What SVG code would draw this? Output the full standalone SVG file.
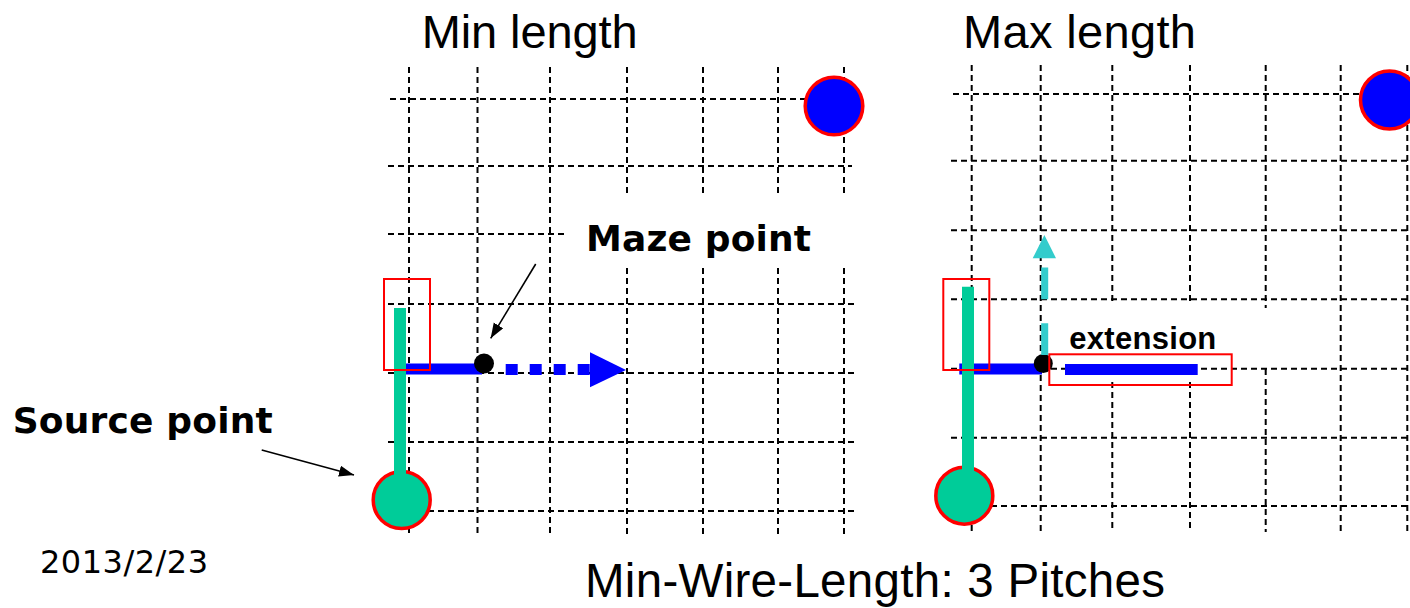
<svg xmlns="http://www.w3.org/2000/svg" width="1410" height="608" viewBox="0 0 1410 608">
<defs>
<style>
.grid line{stroke:#000;stroke-width:2;stroke-dasharray:6 4;fill:none}
.t{font-family:"Liberation Sans",Arial,sans-serif;fill:#000}
.tb{font-family:"DejaVu Sans",Verdana,sans-serif;font-weight:bold;fill:#000}
.blue{stroke:#0000FF;stroke-width:11;fill:none}
.green{stroke:#00CC99;stroke-width:12;fill:none}
.frame{fill:none;stroke:#FF0000;stroke-width:2}
.pin{stroke:#FF0000;stroke-width:3.5}
.arr{stroke:#000;stroke-width:1.6;fill:none}
</style>
<marker id="ah" markerUnits="userSpaceOnUse" markerWidth="16" markerHeight="12" refX="15" refY="5.5" orient="auto">
<path d="M0,0 L15,5.5 L0,11 z" fill="#000"/>
</marker>
</defs>
<rect width="1410" height="608" fill="#fff"/>

<g id="grid-left" class="grid">
<line x1="409" y1="67" x2="409" y2="536"/>
<line x1="477.5" y1="67" x2="477.5" y2="536"/>
<line x1="550" y1="67" x2="550" y2="536"/>
<line x1="627" y1="67" x2="627" y2="197"/><line x1="627" y1="268" x2="627" y2="536"/>
<line x1="703" y1="67" x2="703" y2="197"/><line x1="703" y1="268" x2="703" y2="536"/>
<line x1="778" y1="67" x2="778" y2="197"/><line x1="778" y1="268" x2="778" y2="536"/>
<line x1="844" y1="67" x2="844" y2="197"/><line x1="844" y1="268" x2="844" y2="536"/>
<line x1="390" y1="99" x2="834" y2="99"/>
<line x1="388" y1="166" x2="852" y2="166"/>
<line x1="388" y1="234" x2="565" y2="234"/>
<line x1="388" y1="304" x2="858" y2="304"/>
<line x1="388" y1="373" x2="856" y2="373"/>
<line x1="388" y1="442" x2="856" y2="442"/>
<line x1="388" y1="511" x2="857" y2="511"/>
</g>

<g id="grid-right" class="grid">
<line x1="971.7" y1="65" x2="971.7" y2="532"/>
<line x1="1040.7" y1="65" x2="1040.7" y2="532"/>
<line x1="1112.3" y1="65" x2="1112.3" y2="305"/><line x1="1112.3" y1="382" x2="1112.3" y2="532"/>
<line x1="1190" y1="65" x2="1190" y2="305"/><line x1="1190" y1="382" x2="1190" y2="532"/>
<line x1="1265.7" y1="65" x2="1265.7" y2="308"/><line x1="1265.7" y1="369" x2="1265.7" y2="532"/>
<line x1="1340.7" y1="65" x2="1340.7" y2="532"/>
<line x1="1407.3" y1="65" x2="1407.3" y2="532"/>
<line x1="953" y1="94" x2="1389" y2="94"/>
<line x1="951" y1="160.7" x2="1410" y2="160.7"/>
<line x1="951" y1="230.3" x2="1410" y2="230.3"/>
<line x1="951" y1="299.3" x2="1410" y2="299.3"/>
<line x1="951" y1="368.7" x2="1410" y2="368.7"/>
<line x1="951" y1="437.7" x2="1410" y2="437.7"/>
<line x1="951" y1="506" x2="1410" y2="506"/>
</g>

<g id="title-min"><text class="t" x="421.7" y="48.3" font-size="47" textLength="216">Min length</text></g>
<g id="title-max"><text class="t" x="963" y="48" font-size="47" textLength="233">Max length</text></g>

<g id="target-left"><circle cx="834" cy="106" r="28.8" fill="#0000FF" class="pin"/></g>
<g id="target-right"><circle cx="1389.5" cy="100" r="29" fill="#0000FF" class="pin"/></g>

<g id="source-left">
<circle cx="401.7" cy="500" r="28.5" fill="#00CC99" class="pin"/>
</g>
<g id="source-right">
<circle cx="964.3" cy="495.7" r="28.5" fill="#00CC99" class="pin"/>
</g>

<g id="wire-left">
<line class="blue" x1="405" y1="369" x2="482" y2="369"/>
<line class="green" x1="400" y1="308" x2="400" y2="500"/>
<rect class="frame" x="384" y="279" width="46" height="91"/>
<circle cx="484" cy="363.5" r="10" fill="#000"/>
</g>

<g id="wire-right">
<line class="blue" x1="959.3" y1="369" x2="1042" y2="369"/>
<line class="green" x1="968" y1="286.7" x2="968" y2="496"/>
<rect class="frame" x="943.3" y="279" width="46" height="91"/>
<circle cx="1043.3" cy="363.5" r="9.5" fill="#000"/>
</g>

<g id="extension">
<rect class="frame" x="1049.3" y="354.3" width="182.4" height="30.7"/>
<line class="blue" x1="1065" y1="369.5" x2="1197.7" y2="369.5"/>
<text class="t" x="1069.3" y="349.3" font-size="31" font-weight="bold" textLength="147">extension</text>
</g>

<g id="connectors">
<line x1="505.7" y1="369.5" x2="590" y2="369.5" stroke="#0000FF" stroke-width="11" stroke-dasharray="12 12"/>
<polygon points="590,352.3 590,387.3 626,370" fill="#0000FF"/>
<line x1="1044.7" y1="355" x2="1044.7" y2="267.6" stroke="#33CCCC" stroke-width="7" stroke-dasharray="31.7 24"/>
<polygon points="1044.4,235 1032.7,258.3 1056,258.3" fill="#33CCCC"/>
<line class="arr" x1="535.7" y1="264" x2="490.7" y2="338.3" marker-end="url(#ah)"/>
<line class="arr" x1="261.7" y1="450" x2="354" y2="475" marker-end="url(#ah)"/>
</g>

<g id="label-maze"><text class="tb" x="586" y="250.7" font-size="36" textLength="225">Maze point</text></g>
<g id="label-source"><text class="tb" x="12.7" y="432.7" font-size="36" textLength="260">Source point</text></g>
<g id="date"><text x="40" y="573.3" font-family="'DejaVu Sans',Verdana,sans-serif" font-size="32" textLength="168" fill="#000">2013/2/23</text></g>
<g id="caption"><text class="t" x="585" y="597" font-size="47.5" textLength="580">Min-Wire-Length: 3 Pitches</text></g>
</svg>
